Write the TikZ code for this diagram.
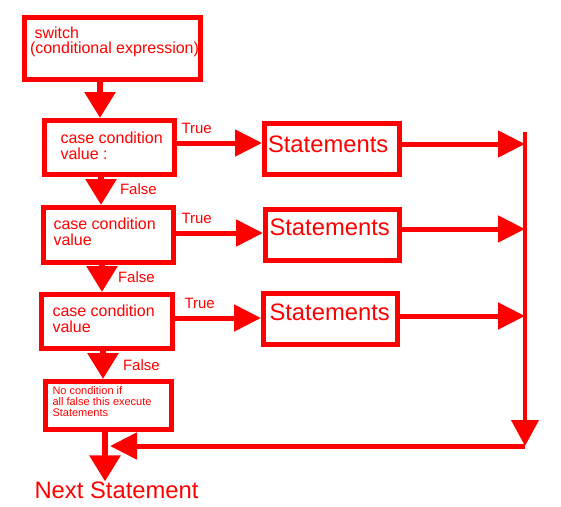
\documentclass[tikz,border=0pt]{standalone}
\usepackage{fontspec}
\setmainfont{Liberation Sans}
\usetikzlibrary{arrows.meta}
\definecolor{rd}{RGB}{255,0,0}
\tikzset{
  box/.style={draw=rd, line width=5pt, rectangle, outer sep=2.5pt, inner sep=0pt},
  txt/.style={text=rd, anchor=base west, inner sep=0pt, outer sep=0pt},
  mid/.style={txt, font=\fontsize{16}{16}\selectfont},
  lab/.style={txt, font=\fontsize{15}{15}\selectfont},
  big/.style={txt, font=\fontsize{23.8}{23.8}\selectfont},
  small/.style={txt, font=\fontsize{11}{11}\selectfont},
  darr/.style={draw=rd, line width=6pt, -{Triangle[length=26pt,width=30pt]}},
  harr/.style={draw=rd, line width=5pt, -{Triangle[length=27pt,width=26pt]}},
  varr/.style={draw=rd, line width=4pt, -{Triangle[length=26pt,width=27pt]}},
}
\begin{document}
\begin{tikzpicture}[x=1pt,y=-1pt]
\useasboundingbox (0,0) rectangle (561,506);
% boxes
\node[box, minimum width=176pt, minimum height=62pt] (sw) at (112.5,48.5) {};
\node[box, minimum width=130pt, minimum height=54pt] (c1) at (109.5,147.5) {};
\node[box, minimum width=130pt, minimum height=55pt] (c2) at (108.5,235) {};
\node[box, minimum width=131pt, minimum height=54pt] (c3) at (107,321.5) {};
\node[box, minimum width=126pt, minimum height=48pt] (df) at (108.5,405.5) {};
\node[box, minimum width=135pt, minimum height=51pt] (s1) at (332,149) {};
\node[box, minimum width=134pt, minimum height=51pt] (s2) at (332.5,235) {};
\node[box, minimum width=134pt, minimum height=51pt] (s3) at (330.5,319) {};
% texts
\node[mid] (swa) at (34.5,38) {switch};
\node[mid] (swb) at (30,53) {(conditional expression)};
\node[mid] (c1a) at (60.5,143) {case condition};
\node[mid] (c1b) at (60.5,159) {value :};
\node[mid] (c2a) at (53.5,229) {case condition};
\node[mid] (c2b) at (53.5,245) {value};
\node[mid] (c3a) at (52.5,316) {case condition};
\node[mid] (c3b) at (52.5,332) {value};
\node[small] (dfa) at (52.5,394) {No condition if};
\node[small] (dfb) at (52.5,405) {all false this execute};
\node[small] (dfc) at (52.5,416) {Statements};
\node[big] (s1t) at (268,152) {Statements};
\node[big] (s2t) at (269.5,235) {Statements};
\node[big] (s3t) at (269.5,320) {Statements};
\node[lab] (t1) at (181.5,133) {True};
\node[lab] (t2) at (181.5,223) {True};
\node[lab] (t3) at (184.5,308) {True};
\node[lab] (f1) at (120,194) {False};
\node[lab] (f2) at (118,282) {False};
\node[lab] (f3) at (123,370) {False};
\node[big] (nx) at (34.5,498) {Next Statement};
% helper coordinates
\coordinate (d1) at (100,0);
\coordinate (d2) at (101,0);
\coordinate (d3) at (102,0);
\coordinate (d4) at (103,0);
\coordinate (d5) at (105,0);
\coordinate (r1) at (0,143);
\coordinate (r2) at (0,233);
\coordinate (r3) at (0,318);
\coordinate (q1) at (0,144);
\coordinate (q2) at (0,229);
\coordinate (q3) at (0,316);
\coordinate (rtop) at (525,132);
\coordinate (corner) at (525,446);
\coordinate (join) at (110,446);
% connectors
\draw[darr] (sw.south -| d1) -- (c1.north -| d1);
\draw[darr] (c1.south -| d2) -- (c2.north -| d2);
\draw[darr] (c2.south -| d3) -- (c3.north -| d3);
\draw[darr] (c3.south -| d4) -- (df.north -| d4);
\draw[darr] (df.south -| d5) -- (nx.north -| d5);
\draw[harr] (c1.east |- r1) -- (s1.west |- r1);
\draw[harr] (c2.east |- r2) -- (s2.west |- r2);
\draw[harr] (c3.east |- r3) -- (s3.west |- r3);
\draw[harr] (s1.east |- q1) -- (rtop |- q1);
\draw[harr] (s2.east |- q2) -- (rtop |- q2);
\draw[harr] (s3.east |- q3) -- (rtop |- q3);
\draw[varr] (rtop) -- (corner);
\draw[harr] (corner) -- (join);
\end{tikzpicture}
\end{document}
